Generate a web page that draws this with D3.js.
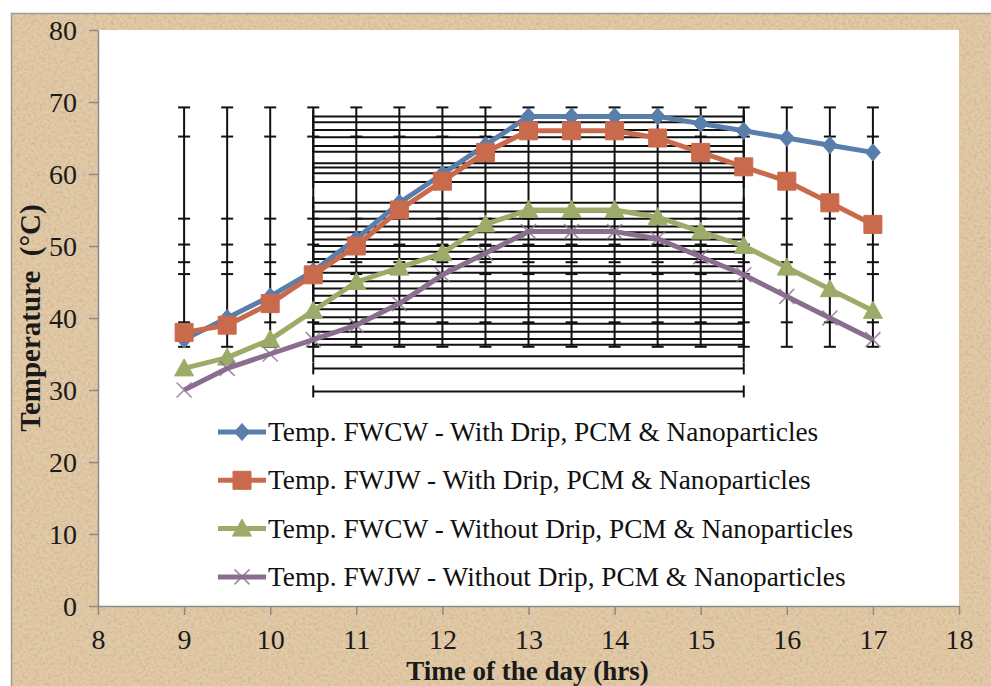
<!DOCTYPE html>
<html><head><meta charset="utf-8">
<script src="https://cdn.jsdelivr.net/npm/d3@7"></script>
<style>body{margin:0;background:#fff;}svg{display:block;}</style>
</head><body>
<svg id="chart" width="991" height="686"></svg>
<script>
// ---- data ----
const hours = [9, 9.5, 10, 10.5, 11, 11.5, 12, 12.5, 13, 13.5, 14, 14.5, 15, 15.5, 16, 16.5, 17];
const fwcwWith    = [37, 40, 43, 46.5, 51, 56, 60, 64, 68, 68, 68, 68, 67, 66, 65, 64, 63];
const fwjwWith    = [38, 39, 42, 46, 50, 55, 59, 63, 66, 66, 66, 65, 63, 61, 59, 56, 53];
const fwcwWithout = [33, 34.5, 37, 41, 45, 47, 49, 53, 55, 55, 55, 54, 52, 50, 47, 44, 41];
const fwjwWithout = [30, 33, 35, 37, 39, 42, 46, 49, 52, 52, 52, 51, 48.5, 46, 43, 40, 37];
const seriesNames = [
  "Temp. FWCW - With Drip, PCM & Nanoparticles",
  "Temp. FWJW - With Drip, PCM & Nanoparticles",
  "Temp. FWCW - Without Drip, PCM & Nanoparticles",
  "Temp. FWJW - Without Drip, PCM & Nanoparticles"
];
const xTicks = [8, 9, 10, 11, 12, 13, 14, 15, 16, 17, 18];
const yTicks = [0, 10, 20, 30, 40, 50, 60, 70, 80];
// vertical error-bar cap levels (°C), identical at every time point
const yErrCaps = [69.25, 65.2, 53.8, 50.2, 47.75, 46.1, 39.4, 36.0];
// horizontal error bars (°C levels), all spanning the same time range
const xErrRange = [10.5, 15.5];
const xErrLevels = [68.0, 67.2, 66.1, 65.1, 63.9, 63.1, 61.5, 60.9, 60.1, 58.9,
  56.0, 54.8, 53.8, 52.7, 51.9, 50.9, 50.0, 49.2, 48.2, 47.2, 46.3, 45.1, 44.1,
  43.1, 42.1, 41.2, 40.1, 39.2, 38.1, 37.1, 36.3, 34.7, 33.0, 29.8];

// ---- layout / style ----
const W = 991, H = 686;
const plot = {left: 98, right: 959, top: 30, bottom: 606};
const colors = ["#5a7eab", "#c96a4c", "#9dab69", "#8a6e8e"];
const serif = "'Liberation Serif','Times New Roman',serif";

const svg = d3.select("#chart");
const defs = svg.append("defs");
const f = defs.append("filter").attr("id", "paper").attr("x", 0).attr("y", 0).attr("width", "100%").attr("height", "100%");
f.append("feTurbulence").attr("type", "fractalNoise").attr("baseFrequency", 0.35).attr("numOctaves", 4).attr("seed", 7);
f.append("feColorMatrix").attr("type", "matrix")
  .attr("values", "0 0 0 0 0.50  0 0 0 0 0.38  0 0 0 0 0.25  1.2 0 0 0 -0.5");

// page & paper background
svg.append("rect").attr("width", W).attr("height", H).attr("fill", "#ffffff");
svg.append("rect").attr("x", 11).attr("y", 13).attr("width", W - 11).attr("height", H - 13)
  .attr("fill", "#e3caa6");
svg.append("rect").attr("x", 11).attr("y", 13).attr("width", W - 11).attr("height", H - 13)
  .attr("filter", "url(#paper)");
svg.append("path").attr("d", `M11.5,${H}V13.5H${W}`).attr("fill", "none").attr("stroke", "#a19a92").attr("stroke-width", 1.5);

// plot area
svg.append("rect").attr("x", plot.left).attr("y", plot.top)
  .attr("width", plot.right - plot.left).attr("height", plot.bottom - plot.top).attr("fill", "#ffffff");

const x = d3.scaleLinear().domain([8, 18]).range([plot.left, plot.right]);
const y = d3.scaleLinear().domain([0, 80]).range([plot.bottom, plot.top]);

// axes
const axisColor = "#8a8a8a";
const gx = svg.append("g").attr("transform", `translate(0,${plot.bottom})`)
  .call(d3.axisBottom(x).tickValues(xTicks).tickFormat(d3.format("d")).tickSize(9).tickSizeOuter(0).tickPadding(14));
const gy = svg.append("g").attr("transform", `translate(${plot.left},0)`)
  .call(d3.axisLeft(y).tickValues(yTicks).tickFormat(d3.format("d")).tickSize(9).tickSizeOuter(0).tickPadding(12));
[gx, gy].forEach(g => {
  g.select(".domain").attr("stroke", axisColor).attr("stroke-width", 1.5);
  g.selectAll(".tick line").attr("stroke", axisColor).attr("stroke-width", 1.5);
  g.selectAll(".tick text").attr("font-family", serif).attr("font-size", 28).attr("fill", "#1a1a1a");
});
gy.selectAll(".tick text").attr("dy", "0.34em");
gx.selectAll(".tick text").attr("dy", "0.71em");

// axis titles
svg.append("text").attr("x", (plot.left + plot.right) / 2 - 1).attr("y", 680)
  .attr("text-anchor", "middle").attr("font-family", serif).attr("font-weight", "bold")
  .attr("font-size", 27).attr("fill", "#1a1a1a").text("Time of the day (hrs)");
svg.append("text").attr("transform", "translate(40,318) rotate(-90)")
  .attr("text-anchor", "middle").attr("font-family", serif).attr("font-weight", "bold")
  .attr("font-size", 29).attr("fill", "#1a1a1a").attr("xml:space", "preserve").text("Temperature  (°C)");

// error bars
const eb = svg.append("g").attr("stroke", "#111").attr("stroke-width", 2).attr("fill", "none");
const capHalf = 6;
hours.forEach(h => {
  const cx = x(h);
  eb.append("line").attr("x1", cx).attr("x2", cx).attr("y1", y(d3.max(yErrCaps))).attr("y2", y(d3.min(yErrCaps)));
  yErrCaps.forEach(c => {
    eb.append("line").attr("x1", cx - capHalf).attr("x2", cx + capHalf).attr("y1", y(c)).attr("y2", y(c));
  });
});
xErrLevels.forEach(l => {
  const yy = y(l);
  eb.append("line").attr("x1", x(xErrRange[0])).attr("x2", x(xErrRange[1])).attr("y1", yy).attr("y2", yy);
  xErrRange.forEach(v => {
    eb.append("line").attr("x1", x(v)).attr("x2", x(v)).attr("y1", yy - capHalf).attr("y2", yy + capHalf);
  });
});

// markers
function markerPath(kind) {
  if (kind === 0) return "M0,-8.5L7.5,0L0,8.5L-7.5,0Z";
  if (kind === 1) return "M-9,-9H9V9H-9Z";
  if (kind === 2) return "M0,-9.5L9.5,7.5H-9.5Z";
  return "M-7.5,-7.5L7.5,7.5M-7.5,7.5L7.5,-7.5";
}
function drawMarker(g, kind, color) {
  const p = g.append("path").attr("d", markerPath(kind));
  if (kind === 3) p.attr("fill", "none").attr("stroke", color).attr("stroke-width", 1.6).attr("opacity", 0.8);
  else p.attr("fill", color).attr("stroke", color).attr("stroke-width", 1);
}

const allSeries = [fwcwWith, fwjwWith, fwcwWithout, fwjwWithout];
const line = d3.line().x((d, i) => x(hours[i])).y(d => y(d));
allSeries.forEach((vals, k) => {
  const g = svg.append("g");
  g.append("path").datum(vals).attr("d", line).attr("fill", "none")
    .attr("stroke", colors[k]).attr("stroke-width", 5).attr("stroke-linejoin", "round");
  vals.forEach((v, i) => {
    const mg = g.append("g").attr("transform", `translate(${x(hours[i])},${y(v)})`);
    drawMarker(mg, k, colors[k]);
  });
});

// legend
const legend = svg.append("g");
const legY0 = 432, legStep = 48.3;
seriesNames.forEach((name, k) => {
  const ly = legY0 + k * legStep;
  const g = legend.append("g").attr("transform", `translate(0,${ly})`);
  g.append("line").attr("x1", 218).attr("x2", 266).attr("y1", 0).attr("y2", 0)
    .attr("stroke", colors[k]).attr("stroke-width", 5);
  const mg = g.append("g").attr("transform", "translate(242,0)");
  drawMarker(mg, k, colors[k]);
  g.append("text").attr("x", 268).attr("y", 9).attr("font-family", serif).attr("font-size", 27.3)
    .attr("fill", "#111").text(name);
});
</script>
</body></html>
